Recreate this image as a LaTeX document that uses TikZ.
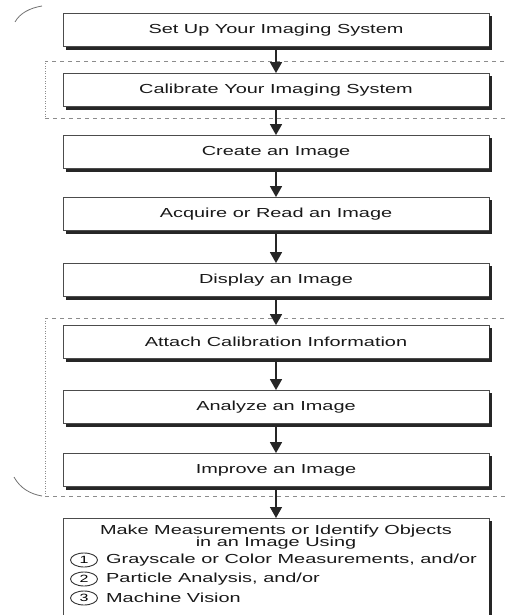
\documentclass[tikz,border=0pt]{standalone}
\usepackage{fontspec}
\setmainfont[FakeStretch=1.52]{Liberation Sans}
\usepackage{tikz}
\usetikzlibrary{arrows.meta}
\usetikzlibrary{positioning}
\usetikzlibrary{shapes.geometric}

\begin{document}
\begin{tikzpicture}[x=1pt, y=-1pt,
      stepbox/.style={draw=black!70, line width=0.8pt, fill=white, minimum width=426pt,
                      minimum height=33pt, inner sep=0pt, text=black!90,
                      font=\fontsize{13.1}{12.5}\selectfont},
      flow/.style={arrows={-Triangle[width=12pt, length=11pt]}, line width=1.4pt, black!85},
      shade/.style={line width=3pt, black!85},
      region/.style={black!45, line width=0.8pt, dash pattern=on 4pt off 4pt},
      regionside/.style={black!45, line width=1pt, dash pattern=on 1pt off 1.5pt},
      bracket/.style={black!55, line width=0.8pt},
      numoval/.style={ellipse, draw=black!80, line width=0.9pt, minimum width=27pt,
                      minimum height=14pt, inner sep=0pt, font=\fontsize{10.5}{10}\selectfont},
      itemtext/.style={inner sep=0pt, text=black!90, font=\fontsize{13.1}{12.5}\selectfont}]
            \useasboundingbox (0,0) rectangle (506,615);
            \clip (0,0) rectangle (506,615);
            % dashed groups and the side brackets
            \draw [region] (512,61) -- (45,61);
            \draw [regionside] (45,61) -- (45,118);
            \draw [region] (45,118) -- (512,118);
            \draw [region] (512,318) -- (45,318);
            \draw [regionside] (45,318) -- (45,496);
            \draw [region] (45,496) -- (512,496);
            \draw [bracket] (15,22) .. controls (20,13) and (30,8) .. (42,6);
            \draw [bracket] (14,477) .. controls (20,488) and (30,494) .. (42,496);
            % steps
            \node [stepbox] (setup) at (276,30) {Set Up Your Imaging System};
            \node [stepbox] (calib) at (276,90) {Calibrate Your Imaging System};
            \node [stepbox] (create) at (276,152) {Create an Image};
            \node [stepbox] (acquire) at (276,214) {Acquire or Read an Image};
            \node [stepbox] (display) at (276,280) {Display an Image};
            \node [stepbox] (attach) at (276,342) {Attach Calibration Information};
            \node [stepbox] (analyze) at (276,407) {Analyze an Image};
            \node [stepbox] (improve) at (276,470) {Improve an Image};
            \node [stepbox, anchor=north, minimum height=110pt] (measure) at (276,518) {};
            \node [itemtext, align=center] (measure-title) at (276,537)
                  {Make Measurements or Identify Objects\\in an Image Using};
            \node [numoval] (num1) at (84,560) {1};
            \node [numoval] (num2) at (84,579) {2};
            \node [numoval] (num3) at (84,598) {3};
            \node [itemtext, right = 8pt of num1] (item1) {Grayscale or Color Measurements, and/or};
            \node [itemtext, right = 8pt of num2] (item2) {Particle Analysis, and/or};
            \node [itemtext, right = 8pt of num3] (item3) {Machine Vision};
            % connectors
            \draw [flow] (setup) -- (calib);
            \draw [flow] (calib) -- (create);
            \draw [flow] (create) -- (acquire);
            \draw [flow] (acquire) -- (display);
            \draw [flow] (display) -- (attach);
            \draw [flow] (attach) -- (analyze);
            \draw [flow] (analyze) -- (improve);
            \draw [flow] (improve) -- (measure);
            % heavy right and bottom edges
            \foreach \stepname in {setup, calib, create, acquire, display, attach, analyze, improve, measure}
                  \draw [shade] ([xshift=1.5pt, yshift=-3pt]\stepname.north east)
                        -- ([xshift=1.5pt, yshift=-1.5pt]\stepname.south east)
                        -- ([xshift=3pt, yshift=-1.5pt]\stepname.south west);
         \end{tikzpicture}
\end{document}
